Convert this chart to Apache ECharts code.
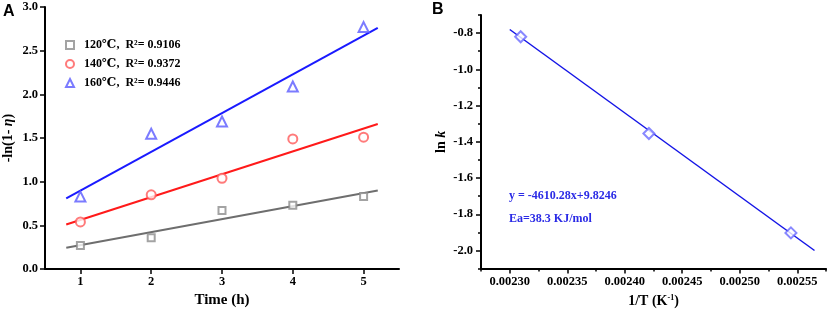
<!DOCTYPE html>
<html>
<head>
<meta charset="utf-8">
<script src="https://cdn.jsdelivr.net/npm/echarts@6/dist/echarts.min.js"></script>
<style>
  html, body { margin: 0; padding: 0; background: #fff; }
  #main { width: 829px; height: 313px; }
</style>
</head>
<body>
<div id="main"></div>
<script>
// panel A: -ln(1-eta) vs time
var timeH = [1, 2, 3, 4, 5];
var eta120 = [0.27, 0.36, 0.67, 0.73, 0.83];
var eta140 = [0.54, 0.85, 1.04, 1.49, 1.51];
var eta160 = [0.83, 1.55, 1.69, 2.09, 2.77];
var fitT = [0.8, 5.2];
var fit120 = [0.245, 0.90];
var fit140 = [0.51, 1.66];
var fit160 = [0.81, 2.76];
var ticksAx = [1, 2, 3, 4, 5];
var ticksAy = [0, 0.5, 1.0, 1.5, 2.0, 2.5, 3.0];

// panel B: Arrhenius plot
var invT = [0.0023095, 0.002421, 0.0025445];
var lnK = [-0.82, -1.354, -1.903];
var fitInvT = [0.0023, 0.002565];
var fitLnK = [-0.78, -2.0];
var ticksBx = [0.0023, 0.00235, 0.0024, 0.00245, 0.0025, 0.00255];
var ticksBy = [-2.0, -1.8, -1.6, -1.4, -1.2, -1.0, -0.8];

function pairs(xs, ys) {
  return xs.map(function (x, i) { return [x, ys[i]]; });
}

var serif = '"Liberation Serif", "DejaVu Serif", serif';
var lbl = { color: '#000', fontFamily: serif, fontWeight: 'bold', fontSize: 12.5 };
var axLine = { show: true, onZero: false, lineStyle: { color: '#000', width: 2 } };
var tick = { show: true, inside: false, length: 5, lineStyle: { color: '#000', width: 1.5 } };
var minorTick = { show: true, inside: false, length: 3, lineStyle: { color: '#000', width: 1.5 } };

var myChart = echarts.init(document.getElementById('main'));
myChart.setOption({
  animation: false,
  grid: [
    { left: 44, top: 7, right: 430, bottom: 42 },
    { left: 481, top: 15, right: 3, bottom: 41 }
  ],
  legend: {
    orient: 'vertical',
    left: 60, top: 34,
    itemWidth: 8, itemHeight: 8, itemGap: 7,
    data: ['120℃,  R²= 0.9106', '140℃,  R²= 0.9372', '160℃,  R²= 0.9446'],
    textStyle: { color: '#000', fontFamily: serif, fontWeight: 'bold', fontSize: 12, padding: [0, 0, 0, 5] }
  },
  xAxis: [
    {
      type: 'value', gridIndex: 0, min: 0.5, max: 5.5,
      name: 'Time (h)', nameLocation: 'middle', nameGap: 23,
      nameTextStyle: { color: '#000', fontFamily: serif, fontWeight: 'bold', fontSize: 15 },
      axisLine: axLine,
      axisTick: Object.assign({}, tick, { customValues: ticksAx }),
      axisLabel: Object.assign({}, lbl, { customValues: ticksAx, margin: 6 }),
      splitLine: { show: false }
    },
    {
      type: 'value', gridIndex: 1, min: 0.002275, max: 0.002575, position: 'bottom',
      name: '1/T (K{s|-1})', nameLocation: 'middle', nameGap: 21,
      nameTextStyle: {
        color: '#000', fontFamily: serif, fontWeight: 'bold', fontSize: 14,
        rich: { s: { fontFamily: serif, fontWeight: 'bold', fontSize: 8, verticalAlign: 'top', padding: [0, 0, 7, 0] } }
      },
      axisLine: axLine,
      axisTick: Object.assign({}, tick, { customValues: ticksBx }),
      axisLabel: Object.assign({}, lbl, {
        customValues: ticksBx, margin: 7,
        formatter: function (v) { return v.toFixed(5); }
      }),
      splitLine: { show: false }
    },
    {
      // minor ticks for panel B x axis
      type: 'value', gridIndex: 1, min: 0.002275, max: 0.002575, interval: 0.000025,
      position: 'bottom', offset: 0,
      axisLine: { show: false, onZero: false },
      axisTick: minorTick,
      axisLabel: { show: false },
      splitLine: { show: false }
    }
  ],
  yAxis: [
    {
      type: 'value', gridIndex: 0, min: 0, max: 3,
      name: '-ln(1- {i|η})', nameLocation: 'middle', nameGap: 30,
      nameTextStyle: {
        color: '#000', fontFamily: serif, fontWeight: 'bold', fontSize: 14,
        rich: { i: { fontFamily: serif, fontStyle: 'italic', fontWeight: 'bold', fontSize: 14 } }
      },
      axisLine: axLine,
      axisTick: Object.assign({}, tick, { customValues: ticksAy }),
      axisLabel: Object.assign({}, lbl, {
        customValues: ticksAy, margin: 7,
        formatter: function (v) { return v.toFixed(1); }
      }),
      splitLine: { show: false }
    },
    {
      type: 'value', gridIndex: 1, min: -2.1, max: -0.7, position: 'left',
      name: 'ln {i|k}', nameLocation: 'middle', nameGap: 33,
      nameTextStyle: {
        color: '#000', fontFamily: serif, fontWeight: 'bold', fontSize: 14,
        rich: { i: { fontFamily: serif, fontStyle: 'italic', fontWeight: 'bold', fontSize: 14 } }
      },
      axisLine: axLine,
      axisTick: Object.assign({}, tick, { customValues: ticksBy }),
      axisLabel: Object.assign({}, lbl, {
        customValues: ticksBy, margin: 8,
        formatter: function (v) { return v.toFixed(1); }
      }),
      splitLine: { show: false }
    },
    {
      // minor ticks for panel B y axis
      type: 'value', gridIndex: 1, min: -2.1, max: -0.7, interval: 0.1,
      position: 'left', offset: 0,
      axisLine: { show: false, onZero: false },
      axisTick: minorTick,
      axisLabel: { show: false },
      splitLine: { show: false }
    }
  ],
  graphic: [
    { type: 'text', left: 3, top: 4, style: { text: 'A', fill: '#000', font: 'bold 16px "Liberation Sans", Arial, sans-serif' } },
    { type: 'text', left: 432, top: 2, style: { text: 'B', fill: '#000', font: 'bold 16px "Liberation Sans", Arial, sans-serif' } },
    { type: 'text', left: 509, top: 190, style: { text: 'y = -4610.28x+9.8246', fill: '#2a2ae6', font: 'bold 12px "Liberation Serif", serif' } },
    { type: 'text', left: 509, top: 213, style: { text: 'Ea=38.3 KJ/mol', fill: '#2a2ae6', font: 'bold 12px "Liberation Serif", serif' } }
  ],
  series: [
    {
      name: '120℃,  R²= 0.9106', type: 'scatter', xAxisIndex: 0, yAxisIndex: 0,
      symbol: 'emptyRect', symbolSize: 7,
      itemStyle: { color: '#8c8c8c', borderWidth: 1 },
      data: pairs(timeH, eta120), z: 3
    },
    {
      name: '140℃,  R²= 0.9372', type: 'scatter', xAxisIndex: 0, yAxisIndex: 0,
      symbol: 'emptyCircle', symbolSize: 9,
      itemStyle: { color: '#ff5a5a', borderWidth: 1 },
      data: pairs(timeH, eta140), z: 3
    },
    {
      name: '160℃,  R²= 0.9446', type: 'scatter', xAxisIndex: 0, yAxisIndex: 0,
      symbol: 'emptyTriangle', symbolSize: 10,
      itemStyle: { color: '#5a5aff', borderWidth: 1 },
      data: pairs(timeH, eta160), z: 3
    },
    {
      name: 'fit120', type: 'line', xAxisIndex: 0, yAxisIndex: 0, showSymbol: false,
      lineStyle: { color: '#6e6e6e', width: 2 }, data: pairs(fitT, fit120)
    },
    {
      name: 'fit140', type: 'line', xAxisIndex: 0, yAxisIndex: 0, showSymbol: false,
      lineStyle: { color: '#ff1a1a', width: 2 }, data: pairs(fitT, fit140)
    },
    {
      name: 'fit160', type: 'line', xAxisIndex: 0, yAxisIndex: 0, showSymbol: false,
      lineStyle: { color: '#1a1aff', width: 2 }, data: pairs(fitT, fit160)
    },
    {
      name: 'lnk', type: 'scatter', xAxisIndex: 1, yAxisIndex: 1,
      symbol: 'emptyDiamond', symbolSize: 11,
      itemStyle: { color: '#6a6aff', borderWidth: 1 },
      data: pairs(invT, lnK), z: 3
    },
    {
      name: 'arrhenius', type: 'line', xAxisIndex: 1, yAxisIndex: 1, showSymbol: false,
      lineStyle: { color: '#1414e6', width: 1.5 }, data: pairs(fitInvT, fitLnK)
    }
  ]
});
</script>
</body>
</html>
